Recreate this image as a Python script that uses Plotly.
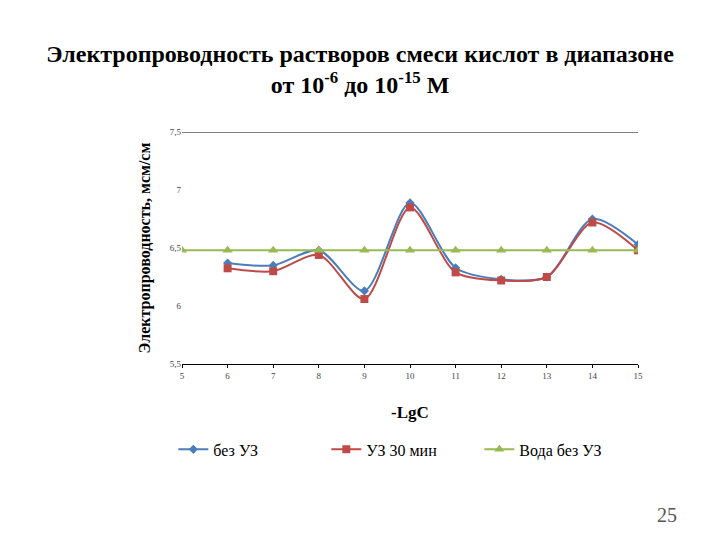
import plotly.graph_objects as go

# -LgC
x_vals = [6, 7, 8, 9, 10, 11, 12, 13, 14, 15]
x_water = [5, 6, 7, 8, 9, 10, 11, 12, 13, 14, 15]

bez_uz = [6.37, 6.35, 6.48, 6.13, 6.89, 6.33, 6.23, 6.25, 6.75, 6.53]
uz_30 = [6.325, 6.30, 6.44, 6.06, 6.85, 6.29, 6.22, 6.25, 6.72, 6.48]
voda = [6.48] * 11

serif = "Liberation Serif"

fig = go.Figure()
fig.add_trace(go.Scatter(x=x_vals, y=bez_uz, name="без УЗ", mode="lines+markers",
                         line=dict(color="#4A7EBB", width=2, shape="spline", smoothing=0.8),
                         marker=dict(symbol="diamond", size=7, color="#4A7EBB")))
fig.add_trace(go.Scatter(x=x_vals, y=uz_30, name="УЗ 30 мин", mode="lines+markers",
                         line=dict(color="#BE4B48", width=2, shape="spline", smoothing=0.8),
                         marker=dict(symbol="square", size=8, color="#BE4B48")))
fig.add_trace(go.Scatter(x=x_water, y=voda, name="Вода без УЗ", mode="lines+markers",
                         line=dict(color="#98B954", width=2),
                         marker=dict(symbol="triangle-up", size=9, color="#98B954")))

# top border line at 7,5
fig.add_shape(type="line", xref="paper", yref="y", x0=0, x1=1, y0=7.5, y1=7.5,
              line=dict(color="black", width=1))

fig.update_layout(
    width=720, height=540,
    paper_bgcolor="white", plot_bgcolor="white",
    separators=", ",
    margin=dict(l=174, r=90, t=124, b=184),
    font=dict(family=serif, color="black"),
    title=dict(text="<b>Электропроводность растворов смеси кислот в диапазоне<br>от 10<sup>-6</sup> до 10<sup>-15</sup> М</b>",
               x=0.489, xanchor="center", y=0.90, yanchor="top",
               font=dict(family=serif, size=24, color="black")),
    legend=dict(orientation="h", x=-0.019, xanchor="left", y=-0.295, yanchor="top",
                font=dict(family=serif, size=16, color="black"),
                entrywidth=108, itemwidth=30),
    showlegend=True,
)
fig.update_xaxes(range=[5, 15], tickvals=list(range(5, 16)), showgrid=False,
                 showline=True, linecolor="black", linewidth=1,
                 ticks="outside", ticklen=3, tickcolor="black",
                 tickfont=dict(family=serif, size=9, color="#444"), zeroline=False,
                 automargin=False,
                 title=dict(text="<b>-LgC</b>", font=dict(family=serif, size=17), standoff=26))
fig.update_yaxes(range=[5.5, 7.5], tickvals=[5.5, 6, 6.5, 7, 7.5], showgrid=False,
                 showline=False, zeroline=False, automargin=False,
                 tickfont=dict(family=serif, size=9, color="#444"),
                 title=dict(text="<b>Электропроводность, мсм/см</b>",
                            font=dict(family=serif, size=16), standoff=15))

fig.add_annotation(text="25", xref="paper", yref="paper", x=1.09, y=-0.706,
                   showarrow=False, font=dict(family=serif, size=20, color="#555"))

fig.write_html("out.html")
